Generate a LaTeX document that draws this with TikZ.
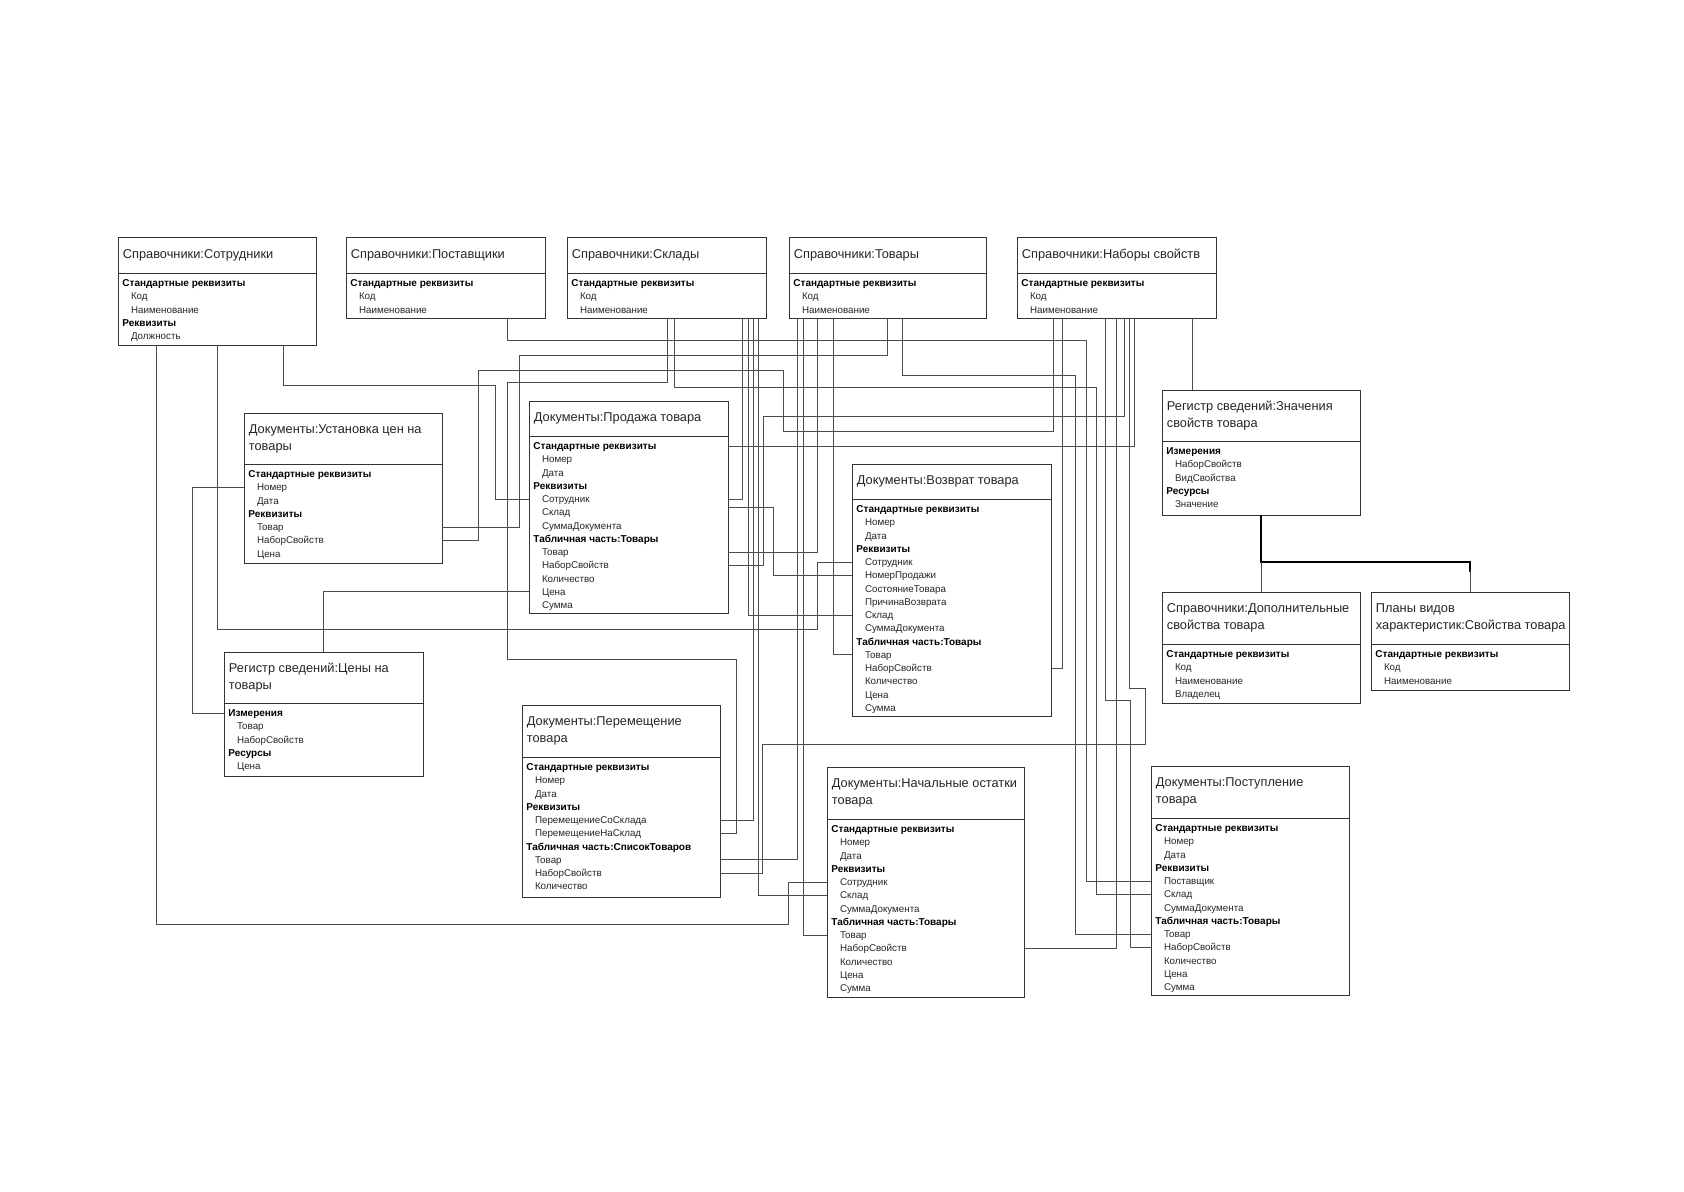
\documentclass[tikz,border=0pt]{standalone}
\usepackage{fontspec}
\setmainfont{Liberation Sans}
\usetikzlibrary{calc}
\tikzset{
  ebox/.style={draw=black!80, line width=0.5pt, fill=white, anchor=north west, inner sep=0pt, outer sep=0pt},
  sepline/.style={draw=black!80, line width=0.5pt},
  etitle/.style={anchor=west, align=left, inner sep=0pt, font=\fontsize{6.4}{8.5}\selectfont, text=black!85},
  rh/.style={anchor=west, inner sep=0pt, xshift=2pt, text height=3.6pt, text depth=0pt, font=\bfseries\fontsize{5}{6}\selectfont},
  rf/.style={anchor=west, inner sep=0pt, xshift=6.3pt, text height=3.6pt, text depth=0pt, font=\fontsize{4.9}{6}\selectfont, text=black!85},
  conn/.style={draw=black!70, line width=0.4pt},
  thickconn/.style={draw=black, line width=0.9pt}
}
% #1 name, #2 x, #3 y, #4 width, #5 header height, #6 height, #7 title, #8 rows
\newcommand\entbox[8]{%
  \node[ebox, minimum width=#4*0.5pt, minimum height=#6*0.5pt] (#1) at (#2,#3) {};
  \draw[sepline] ($(#1.north west)+(0,#5)$) -- ($(#1.north east)+(0,#5)$);
  \node[etitle] (#1-t) at ($(#1.north west)+(4.5,{#5/2})$) {#7};
  \foreach \rowkind/\rowtext [count=\i] in {#8} {
    \node[\rowkind] (#1-\i) at ($(#1.north west)+(0,{#5+10+(\i-1)*13.25})$) {\rowtext};
  }
}
\begin{document}
\begin{tikzpicture}[x=0.5pt, y=-0.5pt]
\fill[white] (0,0) rectangle (1684,1191);
\path[use as bounding box] (0,0) rectangle (1684,1191);

% ---------- boxes ----------
\entbox{sotr}{118}{237}{198}{36}{108}{Справочники:Сотрудники}
  {rh/Стандартные реквизиты, rf/Код, rf/Наименование, rh/Реквизиты, rf/Должность}
\entbox{post}{346}{237}{199}{36}{81}{Справочники:Поставщики}
  {rh/Стандартные реквизиты, rf/Код, rf/Наименование}
\entbox{skl}{567}{237}{199}{36}{81}{Справочники:Склады}
  {rh/Стандартные реквизиты, rf/Код, rf/Наименование}
\entbox{tov}{789}{237}{197}{36}{81}{Справочники:Товары}
  {rh/Стандартные реквизиты, rf/Код, rf/Наименование}
\entbox{nab}{1017}{237}{199}{36}{81}{Справочники:Наборы свойств}
  {rh/Стандартные реквизиты, rf/Код, rf/Наименование}
\entbox{ust}{244}{413}{198}{51}{150}{Документы:Установка цен на\\товары}
  {rh/Стандартные реквизиты, rf/Номер, rf/Дата, rh/Реквизиты, rf/Товар, rf/НаборСвойств, rf/Цена}
\entbox{prod}{529}{401}{199}{35}{212}{Документы:Продажа товара}
  {rh/Стандартные реквизиты, rf/Номер, rf/Дата, rh/Реквизиты, rf/Сотрудник, rf/Склад, rf/СуммаДокумента, rh/Табличная часть:Товары, rf/Товар, rf/НаборСвойств, rf/Количество, rf/Цена, rf/Сумма}
\entbox{vozv}{852}{464}{199}{35}{252}{Документы:Возврат товара}
  {rh/Стандартные реквизиты, rf/Номер, rf/Дата, rh/Реквизиты, rf/Сотрудник, rf/НомерПродажи, rf/СостояниеТовара, rf/ПричинаВозврата, rf/Склад, rf/СуммаДокумента, rh/Табличная часть:Товары, rf/Товар, rf/НаборСвойств, rf/Количество, rf/Цена, rf/Сумма}
\entbox{regz}{1162}{390}{198}{51}{125}{Регистр сведений:Значения\\свойств товара}
  {rh/Измерения, rf/НаборСвойств, rf/ВидСвойства, rh/Ресурсы, rf/Значение}
\entbox{dop}{1162}{592}{198}{52}{111}{Справочники:Дополнительные\\свойства товара}
  {rh/Стандартные реквизиты, rf/Код, rf/Наименование, rf/Владелец}
\entbox{plan}{1371}{592}{198}{52}{98}{Планы видов\\характеристик:Свойства товара}
  {rh/Стандартные реквизиты, rf/Код, rf/Наименование}
\entbox{ceny}{224}{652}{199}{51}{124}{Регистр сведений:Цены на\\товары}
  {rh/Измерения, rf/Товар, rf/НаборСвойств, rh/Ресурсы, rf/Цена}
\entbox{perem}{522}{705}{198}{52}{192}{Документы:Перемещение\\товара}
  {rh/Стандартные реквизиты, rf/Номер, rf/Дата, rh/Реквизиты, rf/ПеремещениеСоСклада, rf/ПеремещениеНаСклад, rh/Табличная часть:СписокТоваров, rf/Товар, rf/НаборСвойств, rf/Количество}
\entbox{nach}{827}{767}{197}{52}{230}{Документы:Начальные остатки\\товара}
  {rh/Стандартные реквизиты, rf/Номер, rf/Дата, rh/Реквизиты, rf/Сотрудник, rf/Склад, rf/СуммаДокумента, rh/Табличная часть:Товары, rf/Товар, rf/НаборСвойств, rf/Количество, rf/Цена, rf/Сумма}
\entbox{postup}{1151}{766}{198}{52}{229}{Документы:Поступление\\товара}
  {rh/Стандартные реквизиты, rf/Номер, rf/Дата, rh/Реквизиты, rf/Поставщик, rf/Склад, rf/СуммаДокумента, rh/Табличная часть:Товары, rf/Товар, rf/НаборСвойств, rf/Количество, rf/Цена, rf/Сумма}

% ---------- connectors ----------
\draw[conn] ($(sotr.south west)+(38,0)$) |- (788,924) |- (nach.west |- nach-5);
\draw[conn] ($(sotr.south west)+(99,0)$) |- (817,629) |- (vozv.west |- vozv-5);
\draw[conn] ($(sotr.south west)+(165,0)$) |- (495,385) |- (prod.west |- prod-5);
\draw[conn] ($(post.south west)+(161,0)$) |- (1086,340) |- (postup.west |- postup-5);
\draw[conn] ($(skl.south west)+(100,0)$) |- (507,382) |- (736,659) |- (perem.east |- perem-6);
\draw[conn] ($(skl.south west)+(107,0)$) |- (1096,387) |- (postup.west |- postup-6);
\draw[conn] ($(skl.south west)+(175,0)$) |- (prod.east |- prod-5);
\draw[conn] ($(skl.south west)+(181,0)$) |- (vozv.west |- vozv-9);
\draw[conn] ($(skl.south west)+(186,0)$) |- (perem.east |- perem-5);
\draw[conn] ($(skl.south west)+(191,0)$) |- (nach.west |- nach-6);
\draw[conn] ($(tov.south west)+(8,0)$) |- (perem.east |- perem-8);
\draw[conn] ($(tov.south west)+(14,0)$) |- (nach.west |- nach-9);
\draw[conn] ($(tov.south west)+(28,0)$) |- (prod.east |- prod-9);
\draw[conn] ($(tov.south west)+(44,0)$) |- (vozv.west |- vozv-12);
\draw[conn] ($(tov.south west)+(98,0)$) |- (519,355) |- (ust.east |- ust-5);
\draw[conn] ($(tov.south west)+(113,0)$) |- (1075,375) |- (postup.west |- postup-9);
\draw[conn] ($(nab.south west)+(36,0)$) |- (783,431) |- (478,370) |- (ust.east |- ust-6);
\draw[conn] ($(nab.south west)+(45,0)$) |- (vozv.east |- vozv-13);
\draw[conn] ($(nab.south west)+(88,0)$) |- (1130,700) |- (postup.west |- postup-10);
\draw[conn] ($(nab.south west)+(99,0)$) |- (nach.east |- nach-10);
\draw[conn] ($(nab.south west)+(107,0)$) |- (763,416) |- (prod.east |- prod-10);
\draw[conn] ($(nab.south west)+(112,0)$) |- (1145,688) |- (762,744) |- (perem.east |- perem-9);
\draw[conn] ($(nab.south west)+(117,0)$) |- (prod.east |- prod-1);
\draw[conn] ($(nab.south west)+(175,0)$) -- ($(regz.north west)+(30,0)$);
\draw[conn] (ust.west |- ust-2) -- ++(-52,0) |- (ceny.west |- ceny-1);
\draw[conn] (ceny.north) |- (prod.west |- prod-12);
\draw[conn] ($(prod.east |- prod-5)+(0,8)$) -| (773,540) |- (vozv.west |- vozv-6);
\coordinate (tree) at ($(regz.south)+(0,47)$);
\draw[thickconn] (regz.south) -- (tree) -| ($(plan.north)+(0,-20)$);
\draw[conn] (tree) -- (dop.north);
\draw[conn] ($(plan.north)+(0,-21)$) -- (plan.north);
\end{tikzpicture}
\end{document}
